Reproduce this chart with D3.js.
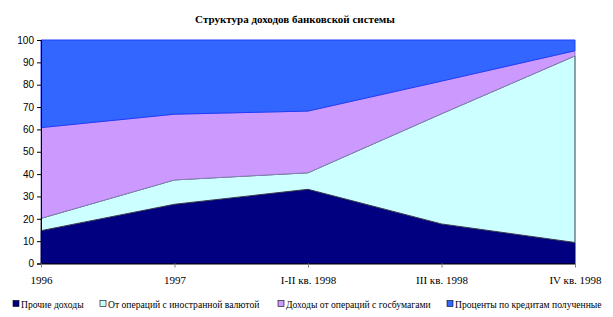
<!DOCTYPE html>
<html>
<head>
<meta charset="utf-8">
<script src="https://cdn.jsdelivr.net/npm/d3@7"></script>
<style>
  body { margin: 0; background: #fff; }
  svg { display: block; }
</style>
</head>
<body>
<div id="chart"></div>
<script>
// --- data (percent shares) ---
const categories = ["1996", "1997", "I-II кв. 1998", "III кв. 1998", "IV кв. 1998"];
const seriesNames = [
  "Прочие доходы",
  "От операций с иностранной валютой",
  "Доходы от операций с госбумагами",
  "Проценты по кредитам полученные"
];
const otherIncome = [14.7, 26.5, 33.2, 17.7, 9.4];
const fxOperations = [5.5, 10.9, 7.4, 49.3, 83.5];
const govSecurities = [40.6, 29.4, 27.6, 14.6, 2.3];
const loanInterest = [39.2, 33.2, 31.8, 18.4, 4.8];
const yTicks = [0, 10, 20, 30, 40, 50, 60, 70, 80, 90, 100];

const fills = ["#000080", "#ccffff", "#cc99ff", "#3366ff"];
const strokes = ["#000060", "#3a3a50", "#8a80b8", "#1f3cff"];

const W = 613, H = 317;
const margin = { left: 41, right: 38, top: 40, bottom: 53.5 };

const svg = d3.select("#chart").append("svg")
    .attr("width", W)
    .attr("height", H);

const rows = categories.map((c, i) => ({
    cat: c,
    s0: otherIncome[i],
    s1: fxOperations[i],
    s2: govSecurities[i],
    s3: loanInterest[i]
}));

const stack = d3.stack().keys(["s0", "s1", "s2", "s3"]);
const layers = stack(rows);

const x = d3.scalePoint()
    .domain(categories)
    .range([margin.left, W - margin.right]);

const y = d3.scaleLinear()
    .domain([0, 100])
    .range([H - margin.bottom, margin.top]);

// title
svg.append("text")
    .attr("x", 295)
    .attr("y", 23)
    .attr("text-anchor", "middle")
    .style("font-family", "'Liberation Serif', 'Times New Roman', serif")
    .style("font-size", "11px")
    .style("font-weight", "bold")
    .text("Структура доходов банковской системы");

// areas
const area = d3.area()
    .x(d => x(d.data.cat))
    .y0(d => y(d[0]))
    .y1(d => y(d[1]));

svg.append("g")
    .selectAll("path")
    .data(layers)
    .join("path")
    .attr("d", area)
    .attr("fill", (d, i) => fills[i])
    .attr("stroke", (d, i) => strokes[i])
    .attr("stroke-width", 1);

// y axis
const yAxis = d3.axisLeft(y)
    .tickValues(yTicks)
    .tickSize(4)
    .tickPadding(3);

const gy = svg.append("g")
    .attr("transform", `translate(${margin.left},0)`)
    .call(yAxis);
gy.select(".domain").attr("stroke", "#000");
gy.selectAll(".tick line").attr("stroke", "#000");
gy.selectAll("text")
    .style("font-family", "'Liberation Sans', Arial, sans-serif")
    .style("font-size", "10px")
    .attr("fill", "#000");

// x axis
const xAxis = d3.axisBottom(x)
    .tickSize(4)
    .tickPadding(9)
    .tickSizeOuter(0);

const gx = svg.append("g")
    .attr("transform", `translate(0,${H - margin.bottom})`)
    .call(xAxis);
gx.select(".domain").attr("stroke", "#000");
gx.selectAll(".tick line").attr("stroke", "#808080");
gx.selectAll("text")
    .style("font-family", "'Liberation Serif', 'Times New Roman', serif")
    .style("font-size", "11px")
    .attr("fill", "#000");

// legend
const legendX = [13, 100, 278, 447];
const legend = svg.append("g")
    .attr("transform", "translate(0,304)");

const item = legend.selectAll("g")
    .data(seriesNames)
    .join("g")
    .attr("transform", (d, i) => `translate(${legendX[i]},0)`);

item.append("rect")
    .attr("x", 0)
    .attr("y", -3.5)
    .attr("width", 6)
    .attr("height", 6)
    .attr("fill", (d, i) => fills[i])
    .attr("stroke", "#000")
    .attr("stroke-width", 0.6);

item.append("text")
    .attr("x", 8)
    .attr("y", 3.5)
    .style("font-family", "'Liberation Serif', 'Times New Roman', serif")
    .style("font-size", "9.6px")
    .attr("fill", "#000")
    .text(d => d);
</script>
</body>
</html>
